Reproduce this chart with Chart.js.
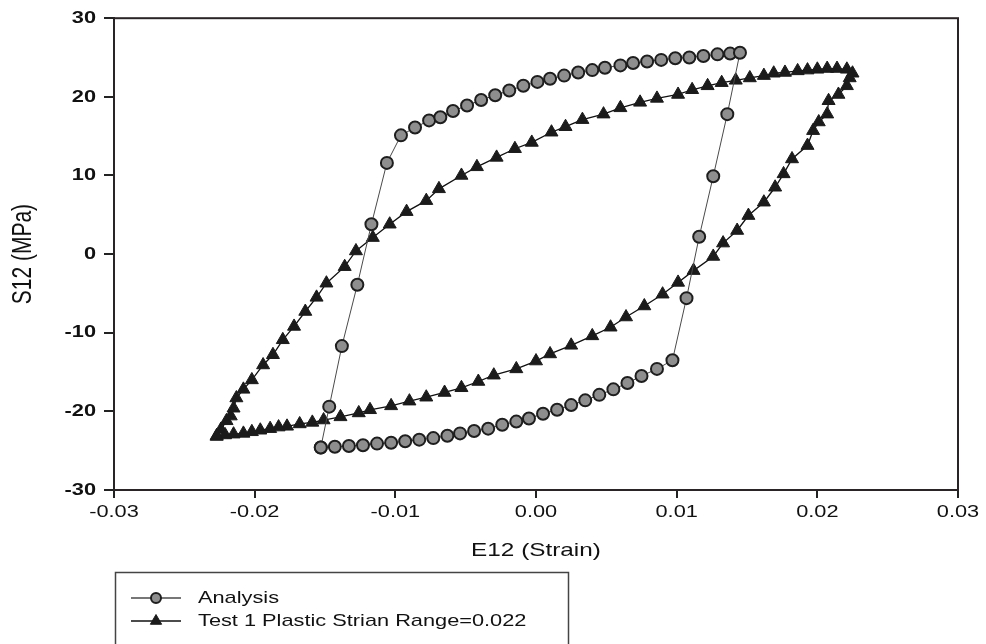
<!DOCTYPE html>
<html>
<head>
<meta charset="utf-8">
<title>S12 vs E12 hysteresis</title>
<script src="https://cdn.jsdelivr.net/npm/chart.js@4.4.1/dist/chart.umd.min.js"></script>
<style>
  html, body { margin: 0; padding: 0; background: #fff; }
  #wrap { position: relative; width: 986px; height: 644px; }
</style>
</head>
<body>
<div id="wrap"><canvas id="loopChart"></canvas></div>
<script>
/* ── Data ───────────────────────────────────────────────────── */
const xTickValues = [-0.03, -0.02, -0.01, 0.00, 0.01, 0.02, 0.03];
const yTickValues = [-30, -20, -10, 0, 10, 20, 30];

const analysisStrain = [
  -0.0153, -0.0147, -0.0138, -0.0127, -0.0117, -0.0106, -0.0096, -0.0086, -0.0076, -0.0068,
  -0.0059, -0.0049, -0.0039, -0.0029, -0.0019, -0.0009, 0.0001, 0.0010, 0.0020, 0.0030,
  0.0040, 0.0049, 0.0060, 0.0069, 0.0079, 0.0089, 0.0099, 0.0109, 0.0119, 0.0129,
  0.0138, 0.0145, 0.0136, 0.0126, 0.0116, 0.0107, 0.0097, 0.0086, 0.0075, 0.0065,
  0.0055, 0.0045, 0.0035, 0.0025, 0.0015, 0.0005, -0.0005, -0.0014, -0.0024, -0.0034,
  -0.0044, -0.0054, -0.0063, -0.0073, -0.0083, -0.0093, -0.0103, -0.0113, -0.0123, -0.0133,
  -0.0143, -0.0153
];
const analysisStress = [
  -24.6, -19.4, -11.7, -3.9, 3.8, 11.6, 15.1, 16.1, 17.0, 17.4,
  18.2, 18.9, 19.6, 20.2, 20.8, 21.4, 21.9, 22.3, 22.7, 23.1,
  23.4, 23.7, 24.0, 24.3, 24.5, 24.7, 24.9, 25.0, 25.2, 25.4,
  25.5, 25.6, 17.8, 9.9, 2.2, -5.6, -13.5, -14.6, -15.5, -16.4,
  -17.2, -17.9, -18.6, -19.2, -19.8, -20.3, -20.9, -21.3, -21.7, -22.2,
  -22.5, -22.8, -23.1, -23.4, -23.6, -23.8, -24.0, -24.1, -24.3, -24.4,
  -24.5, -24.6
];

const testStrain = [
  -0.0227, -0.0224, -0.0220, -0.0217, -0.0215, -0.0213, -0.0208, -0.0202, -0.0194, -0.0187,
  -0.0180, -0.0172, -0.0164, -0.0156, -0.0149, -0.0136, -0.0128, -0.0116, -0.0104, -0.0092,
  -0.0078, -0.0069, -0.0053, -0.0042, -0.0028, -0.0015, -0.0003, 0.0011, 0.0021, 0.0033,
  0.0048, 0.0060, 0.0074, 0.0086, 0.0101, 0.0111, 0.0122, 0.0132, 0.0142, 0.0152,
  0.0162, 0.0169, 0.0177, 0.0186, 0.0193, 0.0200, 0.0207, 0.0214, 0.0221, 0.0225,
  0.0223, 0.0221, 0.0215, 0.0208, 0.0207, 0.0201, 0.0197, 0.0193, 0.0182, 0.0176,
  0.0170, 0.0162, 0.0151, 0.0143, 0.0133, 0.0126, 0.0112, 0.0101, 0.0090, 0.0077,
  0.0064, 0.0053, 0.0040, 0.0025, 0.0010, 0.0000, -0.0014, -0.0030, -0.0041, -0.0053,
  -0.0065, -0.0078, -0.0090, -0.0103, -0.0118, -0.0126, -0.0139, -0.0151, -0.0159, -0.0168,
  -0.0177, -0.0183, -0.0189, -0.0196, -0.0202, -0.0208, -0.0215, -0.0221, -0.0227
];
const testStress = [
  -23.2, -22.3, -21.2, -20.6, -19.6, -18.3, -17.2, -16.0, -14.1, -12.8,
  -10.9, -9.2, -7.3, -5.5, -3.7, -1.6, 0.4, 2.1, 3.8, 5.4,
  6.8, 8.3, 10.0, 11.1, 12.3, 13.4, 14.2, 15.5, 16.2, 17.1,
  17.8, 18.6, 19.3, 19.8, 20.3, 20.9, 21.4, 21.8, 22.1, 22.4,
  22.7, 23.0, 23.1, 23.3, 23.4, 23.5, 23.6, 23.6, 23.5, 23.0,
  22.4, 21.4, 20.3, 19.5, 17.8, 16.8, 15.7, 13.8, 12.1, 10.2,
  8.5, 6.6, 4.9, 3.0, 1.4, -0.3, -2.1, -3.6, -5.1, -6.6,
  -8.0, -9.3, -10.4, -11.6, -12.7, -13.6, -14.6, -15.4, -16.2, -17.0,
  -17.6, -18.2, -18.7, -19.3, -19.8, -20.2, -20.7, -21.1, -21.4, -21.6,
  -21.9, -22.0, -22.2, -22.4, -22.6, -22.8, -22.9, -23.0, -23.1
];

/* ── The scan is stretched sideways: widen every text run ───── */
const TEXT_STRETCH = 1.28;
const baseFillText = CanvasRenderingContext2D.prototype.fillText;
CanvasRenderingContext2D.prototype.fillText = function (text, x, y) {
  const m = this.getTransform();
  this.save();
  this.translate(x, y);
  if (Math.abs(m.b) > 0.5) this.scale(1, TEXT_STRETCH);   // rotated title
  else this.scale(TEXT_STRETCH, 1);
  baseFillText.call(this, text, 0, 0);
  this.restore();
};

const FONT = '"Liberation Sans", Arial, sans-serif';
const toPoints = (xs, ys) => xs.map((x, i) => ({ x, y: ys[i] }));

/* ── Frame round the plot + boxed legend under the axis ─────── */
const frameAndLegend = {
  id: 'frameAndLegend',
  afterDraw(chart) {
    const { ctx, chartArea: a } = chart;
    ctx.save();
    ctx.strokeStyle = '#2a2426';
    ctx.lineWidth = 2;
    ctx.strokeRect(a.left, a.top, a.right - a.left, a.bottom - a.top);

    ctx.strokeStyle = '#444';
    ctx.lineWidth = 1.5;
    ctx.strokeRect(115.5, 572.5, 453, 90);

    chart.data.datasets.forEach((ds, i) => {
      const y = 598 + i * 23;
      ctx.strokeStyle = ds.borderColor;
      ctx.lineWidth = 1.3;
      ctx.beginPath();
      ctx.moveTo(131, y);
      ctx.lineTo(181, y);
      ctx.stroke();

      ctx.fillStyle = ds.pointBackgroundColor;
      ctx.strokeStyle = ds.pointBorderColor;
      ctx.lineWidth = ds.pointBorderWidth;
      ctx.beginPath();
      if (ds.pointStyle === 'triangle') {
        const r = 6.5;
        ctx.moveTo(156, y - r);
        ctx.lineTo(156 + r * 0.866, y + r / 2);
        ctx.lineTo(156 - r * 0.866, y + r / 2);
        ctx.closePath();
      } else {
        ctx.arc(156, y, 5, 0, Math.PI * 2);
      }
      ctx.fill();
      ctx.stroke();

      ctx.fillStyle = '#111';
      ctx.font = '17px ' + FONT;
      ctx.textAlign = 'left';
      ctx.textBaseline = 'middle';
      ctx.fillText(ds.label, 198, y);
    });
    ctx.restore();
  }
};

new Chart(document.getElementById('loopChart'), {
  type: 'scatter',
  data: {
    datasets: [
      {
        label: 'Analysis',
        data: toPoints(analysisStrain, analysisStress),
        showLine: true,
        borderColor: '#4a4a4a',
        borderWidth: 1,
        pointStyle: 'circle',
        pointRadius: 6,
        pointBackgroundColor: '#8e8e8e',
        pointBorderColor: '#1e1e1e',
        pointBorderWidth: 2
      },
      {
        label: 'Test 1 Plastic Strian Range=0.022',
        data: toPoints(testStrain, testStress),
        showLine: true,
        borderColor: '#111',
        borderWidth: 1.3,
        pointStyle: 'triangle',
        pointRadius: 7.5,
        pointBackgroundColor: '#1b1b1b',
        pointBorderColor: '#1b1b1b',
        pointBorderWidth: 1
      }
    ]
  },
  options: {
    responsive: true,
    maintainAspectRatio: false,
    animation: false,
    layout: { padding: { top: 16, right: 28, left: 0, bottom: 0 } },
    plugins: {
      legend: { display: false },
      tooltip: { enabled: false }
    },
    scales: {
      x: {
        type: 'linear',
        min: xTickValues[0],
        max: xTickValues[xTickValues.length - 1],
        afterFit: s => { s.height = 154; },
        afterBuildTicks: s => { s.ticks = xTickValues.map(v => ({ value: v })); },
        border: { color: '#222', width: 2 },
        grid: { drawOnChartArea: false, drawTicks: true, tickLength: 8, color: '#222', lineWidth: 2 },
        ticks: {
          padding: 4,
          color: '#111',
          font: { family: FONT, size: 17 },
          callback: v => v.toFixed(2)
        },
        title: {
          display: true,
          text: 'E12 (Strain)',
          color: '#111',
          font: { family: FONT, size: 19 },
          padding: { top: 0, bottom: 82 }
        }
      },
      y: {
        type: 'linear',
        min: yTickValues[0],
        max: yTickValues[yTickValues.length - 1],
        afterFit: s => { s.width = 114; },
        afterBuildTicks: s => { s.ticks = yTickValues.map(v => ({ value: v })); },
        border: { color: '#222', width: 2 },
        grid: { drawOnChartArea: false, drawTicks: true, tickLength: 10, color: '#222', lineWidth: 2 },
        ticks: {
          padding: 8,
          color: '#111',
          font: { family: FONT, size: 17, weight: 'bold' }
        },
        title: {
          display: true,
          text: 'S12 (MPa)',
          color: '#111',
          font: { family: FONT, size: 21 },
          padding: { top: 11, bottom: 0 }
        }
      }
    }
  },
  plugins: [frameAndLegend]
});
</script>
</body>
</html>
